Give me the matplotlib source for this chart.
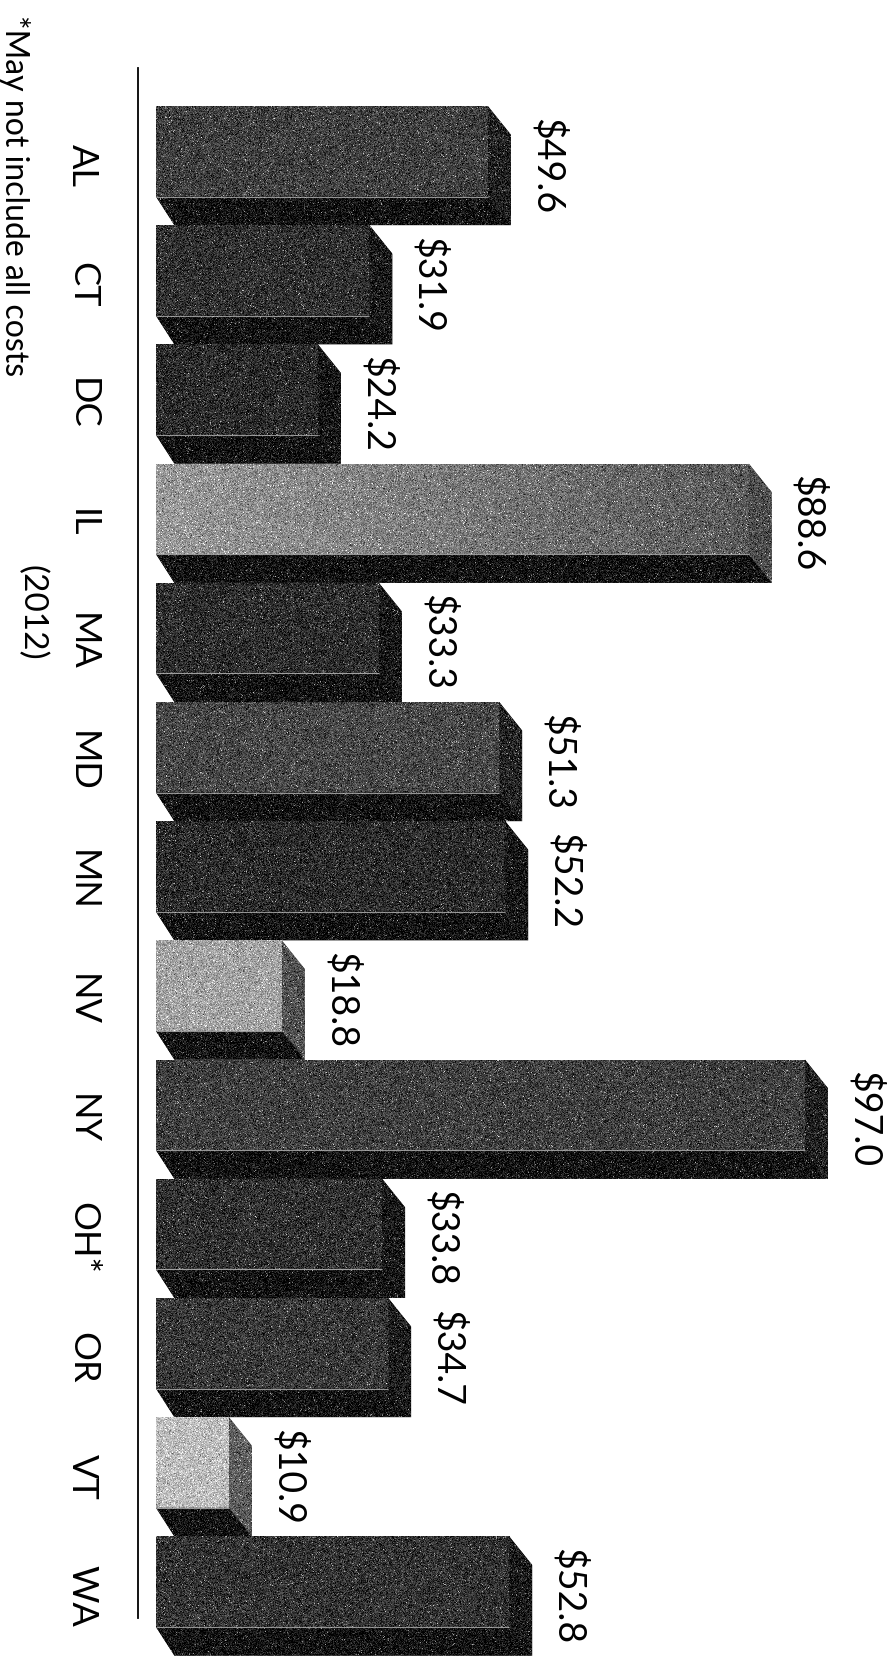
import numpy as np
import matplotlib.pyplot as plt
from matplotlib.patches import Polygon

states = ['AL', 'CT', 'DC', 'IL', 'MA', 'MD', 'MN', 'NV', 'NY', 'OH*', 'OR', 'VT', 'WA']
costs = [49.6, 31.9, 24.2, 88.6, 33.3, 51.3, 52.2, 18.8, 97.0, 33.8, 34.7, 10.9, 52.8]
cost_labels = ['$%.1f' % c for c in costs]
year_label = '(2012)'
footnote = '*May not include all costs'

# grey level of each bar's front face
front_grey = [0.25, 0.19, 0.17, 0.60, 0.18, 0.28, 0.17, 0.64, 0.25, 0.19, 0.22, 0.74, 0.20]

W, H = 888, 1666
px_unit = 6.69      # pixels per dollar
x0_px = 156         # pixel column of the bar base
pitch = 119.2       # pixels between bars
top_px = 106

front_h = 0.76
dx, dy = 23 / px_unit, 1 - front_h

plt.rcParams['font.family'] = ['Lato', 'DejaVu Sans']

fig = plt.figure(figsize=(W / 100, H / 100), dpi=100)
ax = fig.add_axes([0, 0, 1, 1])
ax.axis('off')
rng = np.random.default_rng(3)


def grain(patch, base, extent, cols, rows, fade=0.0):
    img = np.full((rows, cols), base, dtype=float)
    if fade:
        img += np.linspace(0, -fade, cols)[None, :]
    img += rng.normal(0, 0.1, img.shape)
    specks = rng.random(img.shape)
    img[specks > 0.98] += 0.4
    img[specks < 0.01] -= 0.25
    im = ax.imshow(np.clip(img, 0, 1), cmap='gray', vmin=0, vmax=1, extent=extent,
                   aspect='auto', interpolation='nearest', zorder=2)
    im.set_clip_path(patch)


ypos = np.arange(len(states))
bars = ax.barh(ypos + front_h / 2, costs, height=front_h, color=[str(g) for g in front_grey],
               linewidth=0, zorder=1)

for i, (bar, v, g) in enumerate(zip(bars, costs, front_grey)):
    y0, y1 = i, i + front_h
    side = Polygon([(v, y0), (v + dx, y0 + dy), (v + dx, y1 + dy), (v, y1)],
                   closed=True, facecolor=str(max(0.07, g * 0.5)), lw=0, zorder=1)
    floor = Polygon([(0, y1), (v, y1), (v + dx, y1 + dy), (dx * 0.8, y1 + dy)],
                    closed=True, facecolor='0.07', lw=0, zorder=1)
    ax.add_patch(side)
    ax.add_patch(floor)
    cols = int(v * px_unit) + 2
    grain(bar, g, (0, v, y1, y0), cols, 92, fade=0.25 if g > 0.5 and v > 50 else 0.0)
    grain(side, max(0.07, g * 0.5), (v, v + dx, y1 + dy, y0), 24, 120)
    grain(floor, 0.07, (0, v + dx, y1 + dy, y1), cols + 24, 30)

# faint light rim along the lower edge of each front face
ax.hlines(ypos + front_h, 0, costs, color='0.8', lw=0.8, alpha=0.7, zorder=3)

for i, (v, lab) in enumerate(zip(costs, cost_labels)):
    ax.text(v + dx + 2.6, i + 0.5, lab, rotation=270, ha='left', va='center',
            fontsize=27, color='black', zorder=4)

for i, st in enumerate(states):
    ax.text(-11.0, i + 0.5, st, rotation=270, ha='center', va='center', fontsize=26, zorder=4)

ax.text(-18.6, 4.25, year_label, rotation=270, ha='center', va='center', fontsize=24)
fig.text(14 / W, 1 - 15 / H, footnote, rotation=270, ha='center', va='top', fontsize=23)

# category axis line
ax.plot([-2.7, -2.7], [(68 - top_px) / pitch, (1618 - top_px) / pitch], color='black', lw=1.3, zorder=4)

ax.set_xlim(-x0_px / px_unit, (W - x0_px) / px_unit)
ax.set_ylim((H - top_px) / pitch, -top_px / pitch)

fig.savefig('out.png', dpi=100)
